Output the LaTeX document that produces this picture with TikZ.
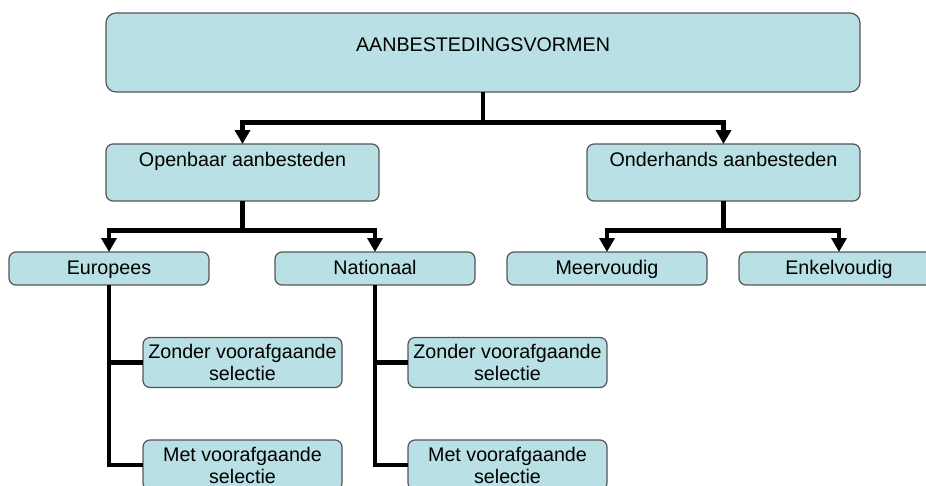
\documentclass[tikz,border=0pt]{standalone}
\usepackage{fontspec}
\setmainfont{Liberation Sans}
\usetikzlibrary{arrows.meta}
\definecolor{boxfill}{RGB}{185,224,228}
\definecolor{boxline}{RGB}{85,85,85}
\begin{document}
\begin{tikzpicture}[x=1pt,y=-1pt,
  box/.style={draw=boxline, line width=1.2pt, fill=boxfill, rounded corners=7pt,
    inner sep=0pt, outer sep=0pt, anchor=north west, font=\fontsize{19.7}{22}\selectfont, align=center},
  onel/.style={box, minimum width=200pt, text height=22.5pt, text depth=10.5pt},
  twol/.style={box, minimum width=199pt, minimum height=50pt},
  conn/.style={line width=4.6pt, black},
  arr/.style={conn, -{Triangle[width=15pt,length=14pt]}},
]
\useasboundingbox (0,0) rectangle (926,485);
\clip (0,0) rectangle (926,485);

\node[box, minimum width=754pt, text height=38pt, text depth=41pt, rounded corners=10pt] (top) at (106,13) {AANBESTEDINGSVORMEN};
\node[box, minimum width=273pt, text height=22.5pt, text depth=34.5pt] (open) at (106,144) {Openbaar aanbesteden};
\node[box, minimum width=273pt, text height=22.5pt, text depth=34.5pt] (onder) at (587,144) {Onderhands aanbesteden};

\node[onel] (eu) at (9,252) {Europees};
\node[onel] (nat) at (275,252) {Nationaal};
\node[onel] (meer) at (507,252) {Meervoudig};
\node[onel] (enk) at (739,252) {Enkelvoudig};

\node[twol] (euz) at (143,337.5) {Zonder voorafgaande\\selectie};
\node[twol] (eum) at (143,440) {Met voorafgaande\\selectie};
\node[twol] (natz) at (408,337.5) {Zonder voorafgaande\\selectie};
\node[twol] (natm) at (408,440) {Met voorafgaande\\selectie};

\draw[arr] (top.south) -- ++(0,30.5) -| (open.north);
\draw[arr] (top.south) -- ++(0,30.5) -| (onder.north);
\draw[arr] (open.south) -- ++(0,29.5) -| (eu.north);
\draw[arr] (open.south) -- ++(0,29.5) -| (nat.north);
\draw[arr] (onder.south) -- ++(0,29.5) -| (meer.north);
\draw[arr] (onder.south) -- ++(0,29.5) -| (enk.north);

\draw[conn] (eu.south) |- (euz.west);
\draw[conn] (eu.south) |- (eum.west);
\draw[conn] (nat.south) |- (natz.west);
\draw[conn] (nat.south) |- (natm.west);
\end{tikzpicture}
\end{document}
